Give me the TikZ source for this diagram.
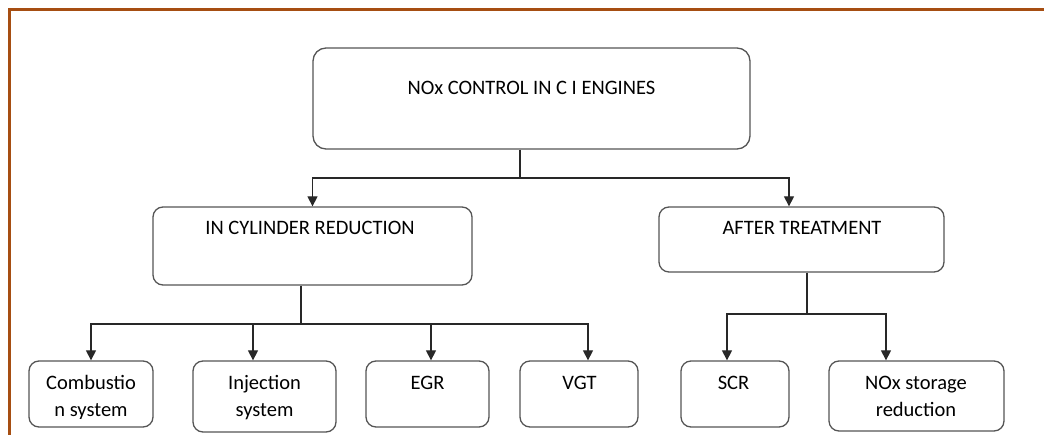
\documentclass[tikz,border=0pt]{standalone}
\usepackage{fontspec}
\setmainfont{Carlito}
\usetikzlibrary{arrows.meta}
\definecolor{framecol}{RGB}{166,78,18}
\definecolor{boxline}{RGB}{85,85,85}
\definecolor{linecol}{RGB}{40,40,40}
\begin{document}
\begin{tikzpicture}[x=1pt,y=-1pt,
  box/.style={draw=boxline,line width=1.3pt,rounded corners=10pt,inner sep=0pt},
  lbl/.style={inner sep=0pt,align=center,font=\fontsize{20.5}{28}\selectfont},
  conn/.style={draw=linecol,line width=1.3pt},
  arr/.style={conn,-{Triangle[width=10pt,length=10pt]}}]
\useasboundingbox (0,0) rectangle (1044,435);
\draw[framecol,line width=2.8pt] (9.5,435) -- (9.5,9.7) -- (1044,9.7);
% boxes
\node[box,rounded corners=13pt,minimum width=437,minimum height=101] (top) at (531.5,98.5) {};
\node[box,minimum width=319,minimum height=78] (inc) at (312.5,246) {};
\node[box,minimum width=285,minimum height=65] (aft) at (801.5,239.5) {};
\node[box,minimum width=124,minimum height=66] (comb) at (91,394) {};
\node[box,minimum width=143,minimum height=71] (inj) at (264.5,396.5) {};
\node[box,minimum width=123,minimum height=66] (egr) at (427.5,394) {};
\node[box,minimum width=118,minimum height=66] (vgt) at (579,394) {};
\node[box,minimum width=108,minimum height=66] (scr) at (735,394) {};
\node[box,minimum width=175,minimum height=70] (nox) at (916.5,396) {};
% labels
\node[lbl,anchor=base] (ttop) at (531.5,95) {NOx CONTROL IN C I ENGINES};
\node[lbl,anchor=base] (tinc) at (310,235) {IN CYLINDER REDUCTION};
\node[lbl,anchor=base] (taft) at (802,235) {AFTER TREATMENT};
\begin{scope}
\clip (30,362) rectangle (152,418.5);
\node[lbl,anchor=base] (tcomb) at (91,417) {Combustio\\n system};
\end{scope}
\node[lbl,anchor=base] (tinj) at (264.5,417) {Injection\\system};
\node[lbl,anchor=base] (tegr) at (427.5,389) {EGR};
\node[lbl,anchor=base] (tvgt) at (579.5,389) {VGT};
\node[lbl,anchor=base] (tscr) at (733.5,389) {SCR};
\node[lbl,anchor=base] (tnox) at (916,417) {NOx storage\\reduction};
% connectors
\coordinate (j1) at (520,178);
\coordinate (j2) at (301,324);
\coordinate (j3) at (807,314);
\draw[conn] (top.south -| j1) -- (j1);
\draw[arr] (j1) -| (inc.north);
\draw[arr] (j1) -| ([xshift=-12.5pt]aft.north);
\draw[conn] (inc.south -| j2) -- (j2);
\draw[arr] (j2) -| (comb.north);
\draw[arr] (j2) -| ([xshift=-11.5pt]inj.north);
\draw[arr] (j2) -| ([xshift=3.5pt]egr.north);
\draw[arr] (j2) -| ([xshift=9pt]vgt.north);
\draw[conn] (aft.south -| j3) -- (j3);
\draw[arr] (j3) -| ([xshift=-8pt]scr.north);
\draw[arr] (j3) -| ([xshift=-30.5pt]nox.north);
\end{tikzpicture}
\end{document}
